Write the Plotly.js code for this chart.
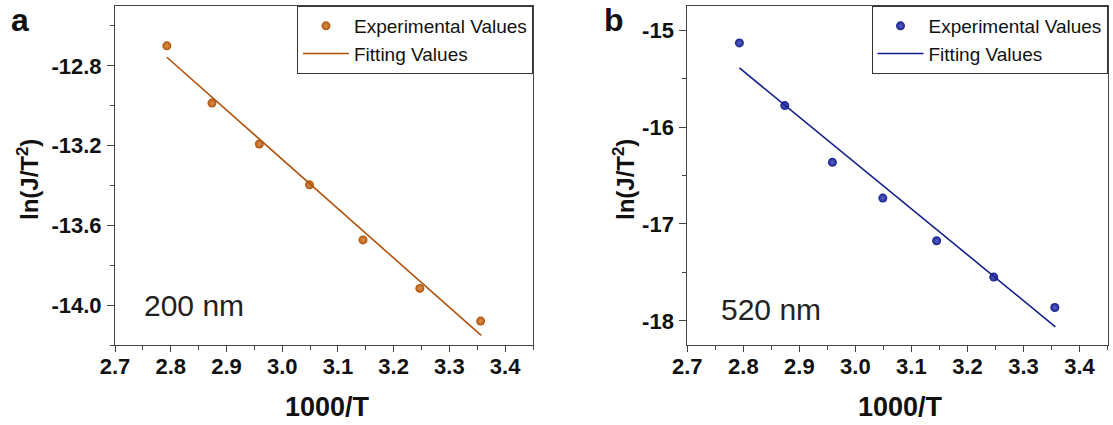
<!DOCTYPE html>
<html>
<head>
<meta charset="utf-8">
<script src="https://cdn.plot.ly/plotly-3.0.1.min.js"></script>
<style>html,body{margin:0;padding:0;background:#fff;}#chart{width:1113px;height:425px;}</style>
</head>
<body>
<div id="chart"></div>
<script>
// ---- data ----
var invT = [2.793, 2.874, 2.959, 3.049, 3.145, 3.247, 3.356];
var expA = [-12.700, -12.987, -13.192, -13.397, -13.673, -13.916, -14.080];
var expB = [-15.131, -15.778, -16.364, -16.733, -17.174, -17.549, -17.863];
var fitX = [2.793, 3.357];
var fitA = [-12.757, -14.152];
var fitB = [-15.390, -18.062];

var xTickVals = [2.7, 2.8, 2.9, 3.0, 3.1, 3.2, 3.3, 3.4];
var xTickText = ['2.7', '2.8', '2.9', '3.0', '3.1', '3.2', '3.3', '3.4'];
var yTickValsA = [-12.8, -13.2, -13.6, -14.0];
var yTickTextA = ['-12.8', '-13.2', '-13.6', '-14.0'];
var yTickValsB = [-15, -16, -17, -18];
var yTickTextB = ['-15', '-16', '-17', '-18'];

var seriesNames = ['Experimental Values', 'Fitting Values'];
var panelLabels = ['a', 'b'];
var sizeLabels = ['200 nm', '520 nm'];
var xTitle = '1000/T';
var yTitle = 'ln(J/T<sup>2</sup>)';

// ---- styling ----
var FONT = 'Liberation Sans, Arial, Helvetica, sans-serif';
var orange = '#B0520C', orangeHi = '#DE9450';
var navy = '#16208A', navyHi = '#5A64C8';
var axisColor = '#444';

function markerStyle(c, hi) {
  return {size: 9, color: c, gradient: {type: 'radial', color: hi}, line: {width: 0}};
}

var traces = [
  {x: invT, y: expA, mode: 'markers', name: seriesNames[0], marker: markerStyle(orange, orangeHi),
   xaxis: 'x', yaxis: 'y', legend: 'legend'},
  {x: fitX, y: fitA, mode: 'lines', name: seriesNames[1], line: {color: orange, width: 1.6},
   xaxis: 'x', yaxis: 'y', legend: 'legend'},
  {x: invT, y: expB, mode: 'markers', name: seriesNames[0], marker: markerStyle(navy, navyHi),
   xaxis: 'x2', yaxis: 'y2', legend: 'legend2'},
  {x: fitX, y: fitB, mode: 'lines', name: seriesNames[1], line: {color: navy, width: 1.6},
   xaxis: 'x2', yaxis: 'y2', legend: 'legend2'}
];

function xAxis(domain, anchor) {
  return {
    domain: domain, anchor: anchor, range: [2.7, 3.45],
    tickmode: 'array', tickvals: xTickVals, ticktext: xTickText,
    ticks: 'outside', ticklen: 6, tickwidth: 1, tickcolor: axisColor,
    minor: {tickmode: 'linear', tick0: 2.75, dtick: 0.1, ticks: 'outside', ticklen: 4, tickcolor: axisColor},
    showline: true, linecolor: axisColor, linewidth: 1, mirror: true,
    showgrid: false, zeroline: false,
    tickfont: {family: FONT, size: 22, color: '#111', weight: 'bold'},
    ticklabelstandoff: -4
  };
}
function yAxis(domain, anchor, range, vals, text, minor0, minorD) {
  return {
    domain: domain, anchor: anchor, range: range,
    tickmode: 'array', tickvals: vals, ticktext: text,
    ticks: 'outside', ticklen: 7, tickwidth: 1, tickcolor: axisColor,
    minor: {tickmode: 'linear', tick0: minor0, dtick: minorD, ticks: 'outside', ticklen: 4, tickcolor: axisColor},
    showline: true, linecolor: axisColor, linewidth: 1, mirror: true,
    showgrid: false, zeroline: false,
    tickfont: {family: FONT, size: 22, color: '#111', weight: 'bold'},
    ticklabelstandoff: 1
  };
}

function legendBox(xRight) {
  return {
    x: xRight, xanchor: 'right', y: 0.9859, yanchor: 'top',
    bgcolor: 'rgba(255,255,255,0)', bordercolor: '#333', borderwidth: 1,
    font: {family: FONT, size: 19, color: '#111'},
    itemwidth: 46, tracegroupgap: 0, traceorder: 'normal'
  };
}

var ann = [];
function txt(x, y, t, size, bold, opts) {
  var a = {xref: 'paper', yref: 'paper', x: x / 1113, y: 1 - y / 425, text: t, showarrow: false,
    font: {family: FONT, size: size, color: '#111', weight: bold ? 'bold' : 'normal'},
    xanchor: 'center', yanchor: 'middle'};
  for (var k in opts) a[k] = opts[k];
  ann.push(a);
}
txt(20, 0, panelLabels[0], 32, true, {yanchor: 'top'});
txt(614, 0, panelLabels[1], 32, true, {yanchor: 'top'});
txt(194, 305, sizeLabels[0], 30, false, {font: {family: FONT, size: 30, color: '#222'}});
txt(771, 309, sizeLabels[1], 30, false, {font: {family: FONT, size: 30, color: '#222'}});
txt(328, 407, xTitle, 27, true);
txt(900, 407, xTitle, 27, true);
txt(28, 180, yTitle, 24, true, {textangle: -90});
txt(624, 180, yTitle, 24, true, {textangle: -90});

var layout = {
  width: 1113, height: 425,
  margin: {l: 0, r: 0, t: 0, b: 0},
  paper_bgcolor: '#fff', plot_bgcolor: '#fff',
  showlegend: true,
  xaxis: xAxis([115 / 1113, 533 / 1113], 'y'),
  yaxis: yAxis([0.1882, 0.9859], 'x', [-14.2, -12.5], yTickValsA, yTickTextA, -12.6, 0.4),
  xaxis2: xAxis([687.3 / 1113, 1107.5 / 1113], 'y2'),
  yaxis2: yAxis([0.1882, 0.9859], 'x2', [-18.25, -14.75], yTickValsB, yTickTextB, -15.5, 1),
  legend: legendBox(533 / 1113),
  legend2: legendBox(1107.5 / 1113),
  annotations: ann
};

Plotly.newPlot('chart', traces, layout, {staticPlot: true, displayModeBar: false});
</script>
</body>
</html>
